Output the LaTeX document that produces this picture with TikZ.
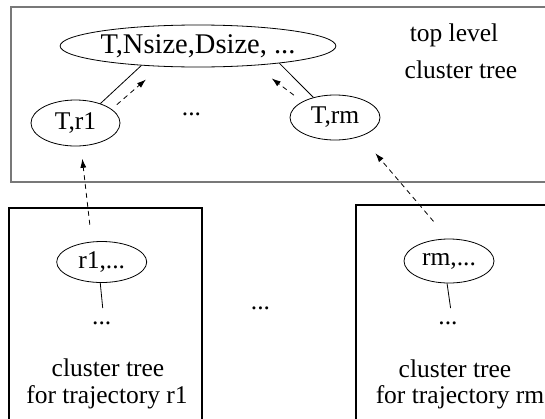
\documentclass[tikz,border=0pt]{standalone}
\usepackage{fontspec}
\setmainfont{Liberation Serif}
\usetikzlibrary{shapes.geometric,arrows.meta}
\tikzset{
  ell/.style={ellipse, draw, line width=0.8pt, inner sep=0pt},
  link/.style={line width=0.8pt},
  dasharrow/.style={line width=0.8pt, dash pattern={on 5pt off 4pt}, -{Latex[length=9pt,width=6pt]}},
}
\begin{document}
\begin{tikzpicture}[x=1pt,y=1pt,yscale=-1,font=\fontsize{25.5}{27}\selectfont]
\useasboundingbox (0,0) rectangle (545,418);

%Shape: Rectangle [top level]
\draw  [color={rgb, 255:red, 120; green, 120; blue, 120 }, line width=2pt] (11,7) rectangle (560,182) ;
%Shape: Rectangle [trajectory r1]
\draw  [line width=1.2pt] (9,208) rectangle (202,430) ;
%Shape: Rectangle [trajectory rm]
\draw  [line width=1.2pt] (356,205) rectangle (560,430) ;

% Ellipse Nodes
\draw (198,46) node [ell, minimum width=244, minimum height=42, font=\fontsize{28.5}{30}\selectfont] (top) {T,Nsize,Dsize, ...};
\draw (75.5,123) node [ell, minimum width=89, minimum height=46] (tr1) {T,r1};
\draw (335,117.5) node [ell, minimum width=90, minimum height=45] (trm) {T,rm};
\draw (101.7,262) node [ell, minimum width=90, minimum height=41] (r1) {r1,...};
\draw (449,261) node [ell, minimum width=90, minimum height=44] (rm) {rm,...};

% Dots
\draw (191.5,114) node (dtop) {...};
\draw (101.7,323) node (d1) {...};
\draw (448,323) node (dm) {...};
\draw (260.5,308) node (dmid) {...};

% Text Node
\draw (454,41.7) node [anchor=base] (lbltop) {top level};
% Text Node
\draw (461,78) node [anchor=base] (lbltree) {cluster tree};
% Text Node
\draw (108,376.7) node [anchor=base] (lblr1a) {cluster tree};
% Text Node
\draw (107,403.3) node [anchor=base] (lblr1b) {for trajectory r1};
% Text Node
\draw (455,377.7) node [anchor=base] (lblrma) {cluster tree};
% Text Node
\draw (460,403) node [anchor=base] (lblrmb) {for trajectory rm};

%Straight Lines
\draw [link] (tr1.38) -- (top.199) ;
\draw [link] (trm.137) -- (top.348) ;
\draw [link, shorten >=10pt] (r1.266) -- ([xshift=2pt]d1.north) ;
\draw [link, shorten >=10pt] (rm.265) -- ([xshift=4pt]dm.north) ;

%Dashed Arrows
\draw [dasharrow, shorten <=6.8pt, shorten >=19.7pt] (tr1.21) -- (top.209) ;
\draw [dasharrow, shorten <=10.6pt, shorten >=21.4pt] (trm.154) -- (top.341) ;
\draw [dasharrow, shorten <=17pt, shorten >=12.6pt] (r1.116) -- (tr1.283) ;
\draw [dasharrow, shorten <=22.7pt, shorten >=22.3pt] (rm.92) -- (trm.324) ;

\end{tikzpicture}
\end{document}
